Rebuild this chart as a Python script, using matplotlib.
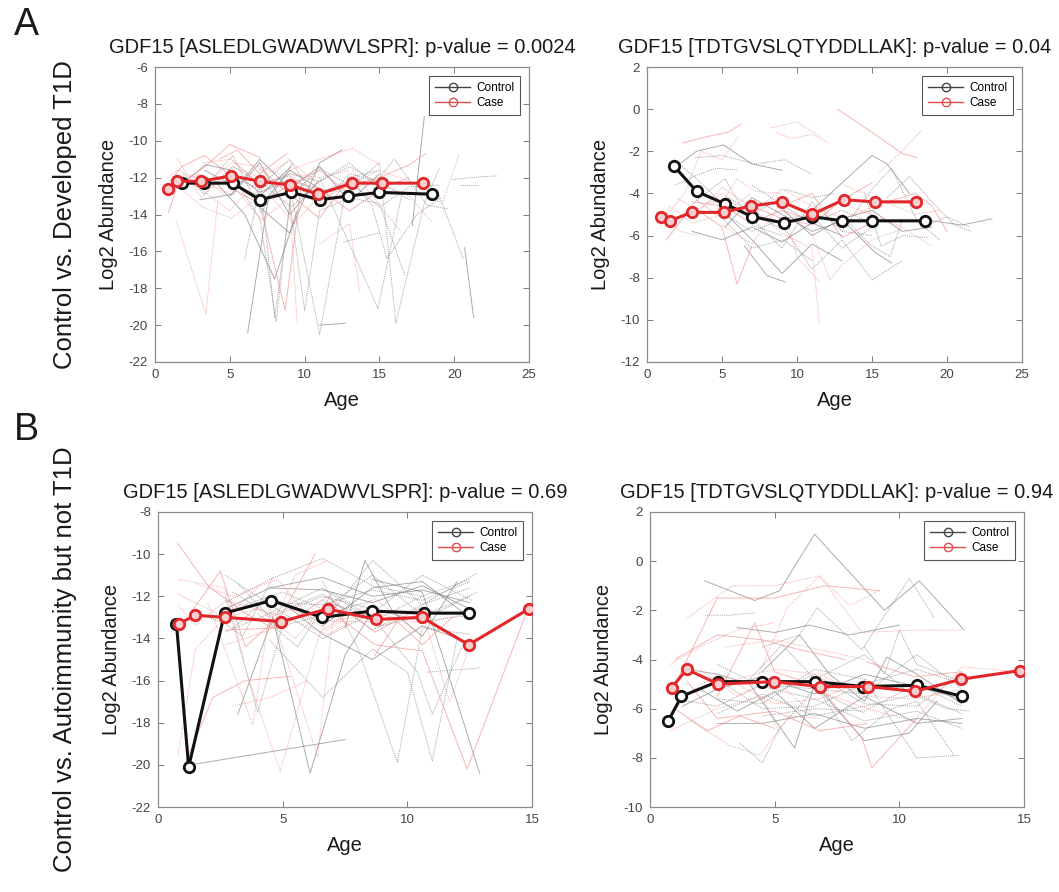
import matplotlib.pyplot as plt
from matplotlib.lines import Line2D

plt.rcParams["font.family"] = ["Liberation Sans", "DejaVu Sans"]
plt.rcParams["axes.unicode_minus"] = False

# ---- panel titles / row labels
titles = [
    "GDF15 [ASLEDLGWADWVLSPR]: p-value = 0.0024",
    "GDF15 [TDTGVSLQTYDDLLAK]: p-value = 0.04",
    "GDF15 [ASLEDLGWADWVLSPR]: p-value = 0.69",
    "GDF15 [TDTGVSLQTYDDLLAK]: p-value = 0.94",
]
row_labels = ["Control vs. Developed T1D", "Control vs. Autoimmunity but not T1D"]
row_letters = ["A", "B"]

# ---- group means (thick lines)
p1_ctrl_age = [1.8, 3.3, 5.2, 7.0, 9.1, 11.0, 12.9, 15.0, 18.5]
p1_ctrl_val = [-12.3, -12.3, -12.3, -13.2, -12.8, -13.2, -13.0, -12.8, -12.9]
p1_case_age = [0.9, 1.5, 3.1, 5.1, 7.0, 9.0, 10.9, 13.2, 15.2, 17.9]
p1_case_val = [-12.6, -12.2, -12.2, -11.9, -12.2, -12.4, -12.9, -12.3, -12.3, -12.3]

p2_ctrl_age = [1.8, 3.3, 5.2, 7.0, 9.1, 11.0, 13.0, 15.0, 18.5]
p2_ctrl_val = [-2.7, -3.9, -4.5, -5.1, -5.4, -5.1, -5.3, -5.3, -5.3]
p2_case_age = [0.9, 1.5, 3.0, 5.1, 6.9, 9.0, 11.0, 13.1, 15.2, 17.9]
p2_case_val = [-5.1, -5.3, -4.9, -4.9, -4.6, -4.4, -5.0, -4.3, -4.4, -4.4]

p3_ctrl_age = [0.74, 1.23, 2.67, 4.55, 6.58, 8.58, 10.66, 12.46]
p3_ctrl_val = [-13.3, -20.1, -12.8, -12.2, -13.0, -12.7, -12.8, -12.8]
p3_case_age = [0.84, 1.5, 2.7, 4.95, 6.8, 8.74, 10.59, 12.46, 14.87]
p3_case_val = [-13.3, -12.9, -13.0, -13.2, -12.6, -13.1, -13.0, -14.3, -12.6]

p4_ctrl_age = [0.73, 1.26, 2.71, 4.5, 6.61, 8.56, 10.71, 12.53]
p4_ctrl_val = [-6.5, -5.5, -4.9, -4.9, -4.9, -5.1, -5.05, -5.5]
p4_case_age = [0.87, 1.47, 2.74, 4.97, 6.81, 8.75, 10.62, 12.49, 14.85]
p4_case_val = [-5.15, -4.4, -5.0, -4.9, -5.1, -5.1, -5.3, -4.8, -4.45]

# ---- individual subjects (age, value)
p1_ctrl_subj = [
    [(2.0, -12.2), (3.4, -11.3), (5.1, -11.6), (7.0, -12.8), (9.0, -12.1)],
    [(3.3, -12.5), (5.2, -10.8), (7.1, -13.9), (9.2, -11.2)],
    [(5.0, -11.7), (7.0, -14.2), (8.1, -19.8), (9.2, -12.0)],
    [(6.2, -20.4), (7.6, -13.0), (9.0, -11.6), (11.0, -12.6)],
    [(7.0, -11.8), (8.0, -19.6), (9.1, -13.0), (11.0, -11.5), (13.0, -12.4)],
    [(9.0, -12.4), (11.0, -20.5), (12.9, -12.0), (15.0, -11.6)],
    [(11.0, -20.0), (12.7, -19.9)],
    [(11.0, -12.0), (13.0, -15.6), (14.9, -19.1), (16.5, -12.9)],
    [(13.0, -12.6), (15.0, -11.2), (16.1, -19.9), (18.0, -13.4), (19.0, -11.5)],
    [(17.2, -14.6), (18.0, -8.7)],
    [(19.9, -12.1), (21.0, -12.0), (22.9, -11.9)],
    [(20.4, -12.4), (21.6, -12.4)],
    [(20.7, -15.8), (21.3, -19.6)],
    [(6.0, -16.4), (7.0, -12.5), (9.0, -11.0), (11.0, -13.5)],
    [(12.6, -15.5), (14.0, -15.2), (15.0, -15.0)],
    [(3.0, -13.2), (5.2, -12.9), (7.0, -11.2), (9.0, -14.0), (10.9, -12.2)],
    [(9.0, -13.3), (10.0, -19.2), (11.0, -13.8), (13.0, -13.1), (15.0, -13.4), (16.7, -17.3)],
    [(14.6, -12.4), (16.0, -11.0), (18.2, -13.5), (19.6, -13.7)],
    [(7.0, -13.6), (9.0, -15.0), (11.0, -11.2), (12.5, -10.5)],
    [(13.0, -12.0), (14.5, -13.5), (15.5, -16.4), (17.5, -14.0), (19.1, -13.1)],
    [(18.3, -12.4), (19.0, -13.0), (20.6, -16.4)],
    [(4.0, -12.2), (6.0, -14.0), (8.0, -17.5), (9.5, -13.8)],
    [(5.1, -12.0), (7.0, -12.6), (9.0, -11.8), (11.0, -12.2), (13.0, -11.4), (15.0, -12.3)],
    [(1.9, -11.8), (3.3, -12.9), (5.2, -11.4), (7.0, -12.3), (9.0, -11.9), (11.0, -12.9)],
    [(5.0, -13.0), (7.0, -11.0), (9.0, -12.6), (11.0, -11.4), (13.0, -13.3), (15.0, -11.8)],
    [(7.0, -12.2), (9.1, -13.6), (11.0, -12.2), (13.0, -11.2), (15.0, -12.6), (17.0, -12.0)],
    [(11.0, -12.8), (13.0, -12.2), (15.0, -13.6), (17.0, -12.5), (19.0, -12.4)],
    [(3.3, -11.6), (5.2, -12.4), (7.0, -13.0), (9.1, -11.4)],
    [(9.0, -12.0), (11.0, -13.6), (13.0, -11.8), (15.0, -12.2), (17.0, -13.2)],
]
p1_case_subj = [
    [(0.9, -13.9), (1.5, -12.4), (3.2, -11.5), (5.0, -10.2), (7.0, -10.9)],
    [(1.4, -14.3), (3.4, -19.4), (4.2, -13.2)],
    [(1.5, -11.0), (3.1, -13.1), (5.2, -11.4), (7.0, -12.0), (9.0, -12.8)],
    [(1.0, -12.2), (1.8, -11.4), (3.3, -10.8), (5.1, -11.9)],
    [(3.0, -12.6), (5.0, -13.8), (7.0, -12.0), (9.0, -11.1), (11.0, -12.4)],
    [(5.0, -12.2), (7.1, -14.3), (9.0, -13.1), (9.5, -19.9)],
    [(7.0, -11.5), (9.0, -12.9), (11.0, -14.2), (13.0, -12.0)],
    [(9.0, -11.6), (11.0, -11.0), (13.2, -10.4), (15.0, -11.3)],
    [(11.0, -15.6), (13.0, -14.5), (13.7, -18.3)],
    [(13.0, -12.4), (15.0, -12.0), (17.0, -11.3), (18.1, -10.7)],
    [(15.0, -12.3), (17.0, -13.0), (18.5, -14.4)],
    [(18.0, -12.8), (19.2, -13.4), (20.3, -10.8)],
    [(4.3, -11.0), (5.5, -10.5), (7.0, -11.8), (8.8, -10.7)],
    [(2.0, -12.8), (3.2, -13.6), (5.1, -14.2), (7.0, -13.0)],
    [(5.2, -11.1), (7.2, -12.5), (9.3, -14.5), (11.0, -13.0)],
    [(9.0, -12.2), (11.0, -12.6), (13.0, -13.8), (15.0, -12.7)],
    [(13.2, -11.6), (15.0, -13.5), (16.4, -14.9)],
    [(1.2, -12.7), (2.9, -11.8), (4.6, -12.9)],
    [(6.8, -12.7), (8.7, -19.2), (9.8, -12.3)],
    [(1.5, -12.0), (3.2, -12.5), (5.1, -11.2), (7.0, -11.4), (9.0, -12.0)],
    [(3.2, -11.2), (5.1, -11.0), (7.0, -12.4), (9.0, -11.8), (11.0, -12.0), (13.0, -11.6)],
    [(5.1, -12.6), (7.0, -13.4), (9.0, -12.4), (11.0, -11.6), (13.0, -12.9)],
    [(9.0, -12.8), (11.0, -13.2), (13.0, -12.4), (15.0, -11.6), (17.0, -12.2)],
    [(0.9, -12.0), (1.5, -11.6), (3.2, -12.2), (5.1, -12.9)],
]

p2_ctrl_subj = [
    [(1.8, -2.8), (3.3, -2.0), (5.1, -1.7), (7.0, -2.6), (9.0, -2.9)],
    [(3.2, -2.3), (5.0, -2.2), (7.2, -2.6), (9.2, -2.4), (11.0, -3.1)],
    [(2.4, -5.0), (3.5, -4.2), (5.2, -3.3), (7.0, -5.5), (9.0, -6.0)],
    [(5.0, -4.8), (7.0, -6.2), (9.0, -7.8), (11.0, -6.4), (13.0, -7.2)],
    [(7.0, -5.2), (9.0, -6.6), (11.0, -4.4), (13.0, -5.8), (15.0, -6.0)],
    [(9.0, -5.5), (11.0, -7.6), (13.0, -6.2), (15.0, -8.1), (17.0, -7.2)],
    [(11.0, -4.8), (13.0, -3.5), (15.0, -2.2), (16.0, -2.6), (17.5, -4.0)],
    [(13.0, -5.8), (15.0, -3.8), (16.3, -2.8), (18.0, -5.3), (19.5, -6.2)],
    [(16.0, -4.2), (17.5, -3.2), (19.0, -4.4), (20.5, -5.5), (21.6, -5.8)],
    [(19.0, -5.3), (21.0, -5.5), (23.0, -5.2)],
    [(18.4, -5.6), (20.0, -5.1), (21.5, -5.6)],
    [(4.0, -4.5), (5.5, -4.2), (7.0, -5.0), (8.5, -4.4)],
    [(6.5, -6.5), (8.0, -7.9), (9.2, -8.2)],
    [(9.2, -3.8), (11.0, -4.2), (12.5, -4.0)],
    [(14.5, -4.0), (15.6, -6.5), (17.1, -6.0), (18.7, -6.1)],
    [(5.2, -5.6), (7.0, -4.2), (9.0, -5.0), (11.0, -5.8), (13.1, -5.3), (15.2, -6.8), (16.3, -7.3)],
    [(1.9, -3.6), (3.1, -3.2), (4.6, -2.8), (6.0, -2.9)],
    [(13.0, -5.0), (14.8, -6.4), (16.2, -7.0), (17.0, -5.3)],
    [(3.0, -5.8), (5.0, -6.2), (7.0, -5.6), (9.0, -6.3), (11.0, -5.4), (13.0, -6.0)],
    [(1.8, -2.4), (3.3, -3.3), (5.2, -4.6), (7.0, -5.0), (9.1, -5.7)],
    [(5.2, -5.0), (7.0, -5.8), (9.1, -5.2), (11.0, -5.0), (13.0, -6.6), (15.0, -5.6)],
    [(9.1, -4.8), (11.0, -6.0), (13.0, -5.2), (15.0, -4.8), (17.0, -5.8), (19.0, -5.6)],
    [(7.0, -3.6), (9.1, -4.6), (11.0, -5.4), (13.0, -4.8), (15.0, -5.4)],
    [(3.3, -4.3), (5.2, -5.3), (7.0, -6.6), (9.1, -6.2), (11.0, -7.2)],
]
p2_case_subj = [
    [(2.4, -1.6), (4.0, -1.3), (5.4, -1.1), (6.3, -0.7)],
    [(8.2, -0.9), (10.0, -0.6), (11.5, -1.3)],
    [(8.6, -1.1), (9.6, -1.4), (11.0, -1.2), (12.1, -1.6)],
    [(12.7, 0.0), (15.0, -1.1), (17.0, -2.1), (18.0, -2.3)],
    [(15.5, -3.0), (17.0, -2.0), (18.3, -1.0)],
    [(1.0, -5.3), (2.5, -4.0), (3.6, -2.0), (5.0, -2.4), (6.1, -1.3)],
    [(1.3, -6.2), (3.0, -4.6), (5.0, -5.6), (6.0, -8.3), (7.0, -6.5)],
    [(3.0, -5.2), (5.0, -3.7), (7.0, -4.7), (9.0, -5.9), (11.0, -6.6), (11.5, -10.2)],
    [(5.0, -5.5), (7.0, -6.4), (9.0, -4.4), (10.0, -7.0), (11.5, -8.2)],
    [(7.0, -4.6), (9.0, -5.2), (11.0, -5.5), (13.0, -4.3), (15.0, -3.5)],
    [(11.0, -5.9), (12.2, -8.1), (13.0, -7.4), (15.0, -6.2), (17.0, -5.7)],
    [(13.0, -4.5), (15.0, -5.0), (17.0, -5.6), (19.0, -6.5)],
    [(16.0, -4.4), (17.9, -4.0), (19.0, -4.6), (20.0, -5.8)],
    [(2.0, -4.2), (3.3, -4.8), (5.0, -4.0), (7.1, -5.3)],
    [(4.5, -5.0), (6.0, -3.3), (7.2, -3.9), (9.0, -4.0)],
    [(9.0, -4.6), (11.0, -4.0), (13.0, -6.1), (15.2, -5.3)],
    [(0.9, -4.9), (2.2, -5.8), (3.5, -6.0)],
    [(0.9, -5.6), (1.5, -4.6), (3.0, -5.4), (5.1, -5.0), (6.9, -4.0)],
    [(3.0, -4.4), (5.1, -4.6), (6.9, -5.4), (9.0, -4.8), (11.0, -5.3)],
    [(6.9, -5.0), (9.0, -3.8), (11.0, -4.6), (13.1, -5.2), (15.2, -4.6)],
    [(13.1, -3.6), (15.2, -4.2), (17.9, -5.0), (19.5, -4.8)],
]

p3_ctrl_subj = [
    [(1.3, -20.0), (7.5, -18.8)],
    [(2.7, -12.3), (4.5, -11.2), (6.6, -10.2), (8.6, -11.5), (10.6, -12.0), (12.5, -11.2)],
    [(3.0, -13.5), (4.5, -12.0), (6.6, -13.3), (8.6, -10.3), (10.6, -12.4), (12.8, -10.9)],
    [(3.2, -17.6), (4.6, -13.0), (6.1, -20.4), (7.5, -14.8), (8.6, -12.7)],
    [(4.5, -14.1), (6.6, -16.8), (8.6, -14.5), (10.0, -15.6), (11.0, -19.8), (12.0, -14.0)],
    [(6.6, -12.2), (8.6, -13.0), (10.4, -15.6), (11.0, -17.6), (12.3, -14.1)],
    [(8.6, -11.2), (10.6, -11.8), (12.9, -20.4)],
    [(10.8, -15.6), (12.9, -15.4)],
    [(2.7, -12.0), (4.0, -17.5), (5.0, -13.4), (6.6, -12.9), (8.6, -12.2)],
    [(4.5, -11.6), (6.6, -11.7), (8.6, -12.3), (10.6, -11.5), (12.5, -12.6)],
    [(6.6, -11.3), (8.0, -14.4), (9.6, -19.9), (10.6, -13.5), (12.5, -13.8)],
    [(3.5, -12.4), (5.0, -11.8), (6.6, -12.6), (8.6, -11.0), (10.6, -12.9), (12.5, -12.0)],
    [(7.5, -13.5), (8.3, -10.3), (9.4, -12.7), (10.6, -13.9), (12.0, -11.3)],
    [(2.7, -11.0), (4.5, -12.4), (6.6, -14.0), (8.6, -12.8), (10.6, -11.0), (12.6, -12.2)],
    [(4.0, -12.8), (5.6, -14.4), (7.0, -11.8), (9.0, -13.4), (11.3, -12.7), (12.8, -11.8)],
    [(5.0, -12.3), (6.6, -13.8), (8.6, -15.0), (10.6, -13.4), (12.5, -14.2)],
    [(1.8, -12.9), (2.7, -13.3), (3.4, -13.9), (4.6, -11.1)],
    [(3.0, -11.8), (4.5, -12.9), (6.6, -11.9), (8.6, -13.6), (10.6, -12.4), (12.5, -11.6)],
    [(2.7, -12.6), (4.5, -11.6), (6.6, -11.1), (8.6, -12.0), (10.6, -11.7), (12.5, -12.3)],
    [(4.5, -12.3), (6.6, -12.4), (8.6, -11.7), (10.6, -12.2), (12.5, -11.3)],
    [(3.2, -11.4), (4.5, -13.0), (6.6, -12.0), (8.6, -12.6), (10.6, -13.2), (12.5, -12.9)],
    [(6.6, -13.4), (8.6, -11.6), (10.6, -11.3), (12.5, -13.0)],
    [(2.7, -13.7), (4.5, -12.8), (6.6, -11.6), (8.6, -13.2), (10.6, -12.0)],
]
p3_case_subj = [
    [(0.8, -9.5), (2.0, -11.5), (3.5, -12.8), (4.6, -13.5)],
    [(0.8, -11.2), (2.7, -11.6), (3.6, -15.8), (4.9, -20.3), (6.5, -13.7), (7.5, -12.9)],
    [(0.8, -19.6), (1.5, -14.5), (2.7, -13.0), (4.0, -11.6)],
    [(1.0, -20.2), (2.2, -16.8), (3.5, -16.0), (5.3, -15.8)],
    [(2.7, -14.3), (4.5, -13.6), (5.5, -11.0), (6.8, -10.3)],
    [(2.0, -12.3), (3.8, -18.1), (4.5, -12.6), (6.4, -19.6), (7.0, -13.2), (8.7, -13.2)],
    [(6.8, -12.6), (8.7, -14.3), (10.6, -14.6), (12.4, -20.2), (14.8, -12.7)],
    [(8.7, -13.5), (10.6, -12.8), (11.7, -17.0), (12.5, -14.4)],
    [(0.8, -11.9), (1.5, -12.3), (2.7, -13.0), (4.0, -12.6), (5.5, -14.0), (6.8, -12.3)],
    [(1.3, -12.8), (2.5, -10.8), (3.5, -14.4), (5.0, -12.8), (6.3, -10.0)],
    [(4.5, -12.0), (6.8, -13.6), (8.7, -12.1), (10.6, -13.9)],
    [(3.0, -17.2), (4.5, -16.8), (6.0, -16.0)],
    [(8.7, -14.8), (9.6, -13.2), (10.6, -14.3), (11.8, -13.0)],
    [(1.5, -11.4), (3.0, -12.0), (4.8, -11.2), (6.0, -12.9)],
    [(0.8, -12.4), (1.5, -13.4), (2.7, -12.2), (4.9, -12.9), (6.8, -13.8), (8.7, -12.6)],
    [(2.7, -13.6), (4.9, -13.5), (6.8, -12.0), (8.7, -13.7), (10.6, -12.5)],
    [(6.8, -13.2), (8.7, -12.8), (10.6, -13.3), (12.5, -12.8)],
]

p4_ctrl_subj = [
    [(2.2, -0.8), (4.2, -1.6), (5.2, -1.2), (6.6, 1.1), (9.4, -2.0), (10.8, -0.8), (12.6, -2.8)],
    [(4.5, -3.5), (6.0, -3.0), (6.7, -1.9), (8.5, -3.6), (10.4, -0.7), (11.4, -2.3)],
    [(2.2, -2.2), (3.2, -2.2), (4.2, -2.1)],
    [(1.5, -4.4), (2.7, -4.6), (4.0, -5.0), (5.8, -7.6), (6.6, -5.0), (8.6, -7.3), (10.4, -7.0), (11.5, -5.7)],
    [(2.7, -5.6), (4.5, -5.8), (6.6, -4.4), (8.6, -4.8), (10.7, -8.0), (12.4, -7.9)],
    [(3.6, -7.4), (4.5, -8.2), (5.2, -6.8), (6.6, -5.2), (8.6, -5.4), (10.7, -3.8), (12.5, -5.2)],
    [(4.5, -4.5), (6.0, -3.0), (7.2, -4.6), (8.6, -5.7), (9.5, -3.9), (10.7, -4.6), (12.5, -5.8)],
    [(2.7, -4.2), (4.5, -5.1), (6.6, -5.6), (8.6, -6.5), (10.7, -6.1), (12.5, -6.8)],
    [(4.5, -6.3), (6.6, -6.0), (8.6, -6.1), (10.7, -5.0), (12.5, -5.9)],
    [(2.0, -5.2), (3.5, -6.1), (5.0, -5.3), (6.6, -6.8), (8.6, -5.5), (10.7, -6.6), (12.5, -6.4)],
    [(6.6, -5.0), (8.1, -7.3), (9.7, -6.0), (10.7, -5.7), (12.2, -7.9)],
    [(8.6, -3.5), (9.4, -4.6), (10.0, -2.8), (10.7, -4.2), (12.5, -4.9)],
    [(3.5, -2.7), (5.0, -2.9), (6.4, -2.6), (8.0, -3.0), (10.0, -2.6)],
    [(4.0, -4.8), (5.3, -3.4), (6.6, -4.8), (8.6, -3.8), (10.3, -5.3), (11.9, -6.0), (12.8, -6.1)],
    [(2.7, -6.2), (4.5, -5.4), (6.6, -6.3), (8.6, -5.9), (10.7, -5.4), (12.5, -6.2)],
    [(1.3, -5.9), (2.7, -5.2), (4.5, -4.7), (6.6, -5.4), (8.6, -4.6), (10.7, -5.1), (12.5, -5.6)],
    [(2.7, -4.8), (4.5, -6.0), (6.6, -5.9), (8.6, -5.0), (10.7, -4.4), (12.5, -5.0)],
    [(4.5, -5.6), (6.6, -4.6), (8.6, -5.8), (10.7, -5.9), (12.5, -4.6)],
    [(2.7, -6.6), (4.5, -6.6), (6.6, -6.2), (8.6, -6.8), (10.7, -6.4), (12.5, -6.6)],
    [(1.0, -5.6), (2.7, -5.9), (4.5, -5.0), (6.6, -5.2), (8.6, -6.2)],
]
p4_case_subj = [
    [(1.0, -5.0), (2.7, -1.5), (5.0, -1.5), (7.0, -1.0), (9.2, -1.2)],
    [(1.5, -2.3), (3.3, -1.0), (5.0, -1.0), (6.8, -0.6), (8.0, -1.8), (9.2, -1.2)],
    [(0.8, -4.2), (2.0, -3.5), (3.5, -2.8), (5.0, -2.5)],
    [(1.0, -4.0), (2.7, -3.0), (4.5, -3.2), (6.0, -3.6), (7.8, -4.0)],
    [(0.8, -6.9), (2.7, -6.0), (4.5, -5.5), (5.2, -7.0)],
    [(1.5, -6.4), (3.2, -7.5), (4.4, -7.9), (5.6, -6.3), (6.8, -6.4)],
    [(2.7, -5.5), (4.2, -2.5), (5.0, -4.5), (6.8, -5.1), (8.5, -7.2), (8.9, -8.4), (10.7, -6.4)],
    [(4.2, -5.0), (5.5, -1.9), (6.8, -0.6), (8.5, -2.9), (10.7, -2.8), (12.5, -2.8)],
    [(6.8, -5.3), (8.7, -6.0), (10.6, -6.5), (12.5, -4.3), (14.8, -4.5)],
    [(8.7, -4.1), (10.6, -4.7), (12.5, -4.5)],
    [(2.0, -4.4), (3.5, -5.5), (5.0, -4.8), (6.5, -6.2)],
    [(3.0, -3.5), (5.0, -3.2), (6.8, -3.6), (8.6, -4.0)],
    [(1.0, -6.0), (2.3, -6.9), (3.6, -6.3), (5.0, -6.8)],
    [(0.9, -6.2), (1.5, -5.4), (2.7, -4.6), (5.0, -5.8), (6.8, -5.6), (8.7, -4.8)],
    [(2.7, -5.0), (5.0, -4.4), (6.8, -4.6), (8.7, -5.5), (10.6, -5.6), (12.5, -5.2)],
    [(1.5, -4.9), (2.7, -6.4), (5.0, -6.1), (6.8, -6.9), (8.7, -6.6)],
]

panels = [
    dict(ctrl_subj=p1_ctrl_subj, case_subj=p1_case_subj,
         ctrl=(p1_ctrl_age, p1_ctrl_val), case=(p1_case_age, p1_case_val),
         xlim=(0, 25), xticks=range(0, 26, 5), ylim=(-22, -6), yticks=range(-22, -5, 2)),
    dict(ctrl_subj=p2_ctrl_subj, case_subj=p2_case_subj,
         ctrl=(p2_ctrl_age, p2_ctrl_val), case=(p2_case_age, p2_case_val),
         xlim=(0, 25), xticks=range(0, 26, 5), ylim=(-12, 2), yticks=range(-12, 3, 2)),
    dict(ctrl_subj=p3_ctrl_subj, case_subj=p3_case_subj,
         ctrl=(p3_ctrl_age, p3_ctrl_val), case=(p3_case_age, p3_case_val),
         xlim=(0, 15), xticks=range(0, 16, 5), ylim=(-22, -8), yticks=range(-22, -7, 2)),
    dict(ctrl_subj=p4_ctrl_subj, case_subj=p4_case_subj,
         ctrl=(p4_ctrl_age, p4_ctrl_val), case=(p4_case_age, p4_case_val),
         xlim=(0, 15), xticks=range(0, 16, 5), ylim=(-10, 2), yticks=range(-10, 3, 2)),
]

# axes boxes in pixels (left, top, right, bottom) of a 1059x892 canvas
W, H = 1059, 892
boxes = [(155, 67, 529, 362), (647, 67, 1022, 362),
         (158, 512, 532, 807), (650, 512, 1024, 807)]

CTRL = "#111111"
CASE = "#e3262a"
CTRL_THIN = "#808080"
CASE_THIN = "#f29090"

fig = plt.figure(figsize=(W / 100, H / 100), dpi=100)

for i, (p, b) in enumerate(zip(panels, boxes)):
    l, t, r, btm = b
    ax = fig.add_axes([l / W, 1 - btm / H, (r - l) / W, (btm - t) / H])

    for subj, col in ((p["ctrl_subj"], CTRL_THIN), (p["case_subj"], CASE_THIN)):
        for k, s in enumerate(subj):
            xs = [a for a, _ in s]
            ys = [v for _, v in s]
            ls = "-" if k % 3 == 0 else (0, (1.2, 1.0))
            ax.plot(xs, ys, color=col, lw=0.7, ls=ls, alpha=0.65, zorder=1)

    ax.plot(*p["ctrl"], color=CTRL, lw=2.2, marker="o", ms=7.5, mew=2,
            mfc="white", zorder=3)
    ax.plot(*p["case"], color=CASE, lw=2.2, marker="o", ms=7.5, mew=2,
            mfc="#f6d0d0", zorder=4)

    ax.set_xlim(*p["xlim"])
    ax.set_ylim(*p["ylim"])
    ax.set_xticks(list(p["xticks"]))
    ax.set_yticks(list(p["yticks"]))
    ax.tick_params(direction="in", top=True, right=True, length=4, width=0.6,
                   color="#666666", labelsize=9.5, labelcolor="#444444", pad=5)
    for sp in ax.spines.values():
        sp.set_color("#8c8c8c")
        sp.set_linewidth(0.9)

    ax.set_title(titles[i], fontsize=14.5, pad=10, color="#1a1a1a")
    ax.set_xlabel("Age", fontsize=14.5, labelpad=7, color="#1a1a1a")
    ax.set_ylabel("Log2 Abundance", fontsize=14.5, labelpad=8, color="#1a1a1a")

    handles = [
        Line2D([], [], color="#444444", lw=1, marker="o", ms=6, mfc="none"),
        Line2D([], [], color="#e05050", lw=1, marker="o", ms=6, mfc="none"),
    ]
    leg = ax.legend(handles, ["Control", "Case"], loc="upper right", fontsize=8.5,
                    fancybox=False, edgecolor="#555555", framealpha=1,
                    handlelength=3, borderaxespad=0.8, labelspacing=0.3,
                    borderpad=0.45, handletextpad=0.5)
    leg.get_frame().set_linewidth(0.8)

# row labels and panel letters
for j, lab in enumerate(row_labels):
    t, btm = boxes[2 * j][1], boxes[2 * j][3]
    yc = 1 - (t + btm) / 2 / H
    fig.text(65 / W, yc, lab, rotation=90, ha="center", va="center",
             fontsize=18.5, color="#1a1a1a")
ltr_y = [25, 430]
for let, y in zip(row_letters, ltr_y):
    fig.text(26 / W, 1 - y / H, let, ha="center", va="center", fontsize=27,
             color="#1a1a1a")

fig.savefig("out.png", dpi=100)
